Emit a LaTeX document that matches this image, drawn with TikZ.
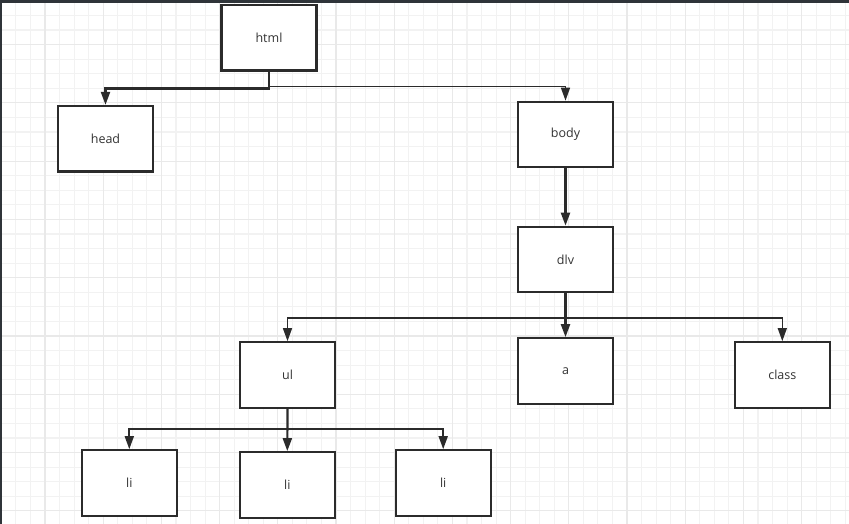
\documentclass[tikz,border=0pt]{standalone}
\usepackage{fontspec}
\setmainfont{Open Sans}
\usetikzlibrary{arrows.meta}
\definecolor{ink}{HTML}{2B2B2B}
\definecolor{txt}{HTML}{333333}
\definecolor{gminor}{HTML}{F2F2F2}
\definecolor{gmajor}{HTML}{E9E9E9}
\definecolor{framec}{HTML}{2F3439}
\tikzset{
  box/.style={draw=ink, line width=2.2pt, fill=white, minimum width=95pt, minimum height=65.5pt, inner sep=0pt, text=txt, font=\fontsize{12.5}{14}\selectfont},
  conn/.style={draw=ink, line width=2.2pt, -{Triangle[length=13pt,width=9pt]}},
  connthin/.style={draw=ink, line width=1.5pt, -{Triangle[length=13pt,width=9pt]}},
  connmid/.style={draw=ink, line width=1.8pt, -{Triangle[length=13pt,width=9pt]}},
}
\begin{document}
\begin{tikzpicture}[x=1pt,y=-1pt]
\useasboundingbox (0,0) rectangle (849,524);
\fill[white] (0,0) rectangle (849,524);
% grid
\foreach \i in {0,...,58} {
  \pgfmathsetmacro\gx{1.35+14.55*\i}
  \draw[gminor, line width=1.1pt] (\gx,0) -- (\gx,524);
}
\foreach \i in {0,...,36} {
  \pgfmathsetmacro\gy{0.85+14.57*\i}
  \draw[gminor, line width=1.1pt] (0,\gy) -- (849,\gy);
}
\foreach \i in {0,...,14} {
  \pgfmathsetmacro\gx{45+58.2*\i}
  \draw[gmajor, line width=1.1pt] (\gx,0) -- (\gx,524);
}
\foreach \i in {0,...,9} {
  \pgfmathsetmacro\gy{44.5+58.3*\i}
  \draw[gmajor, line width=1.1pt] (0,\gy) -- (849,\gy);
}
\fill[framec] (0,0) rectangle (849,3);
\fill[framec] (0,0) rectangle (2,524);
% nodes
\node[box] (html) at (269,37.7) {html};
\node[box] (head) at (105.5,138.7) {head};
\node[box] (body) at (565.5,134.5) {body};
\node[box] (dlv) at (565.5,259.5) {dlv};
\node[box] (a) at (565.5,371) {a};
\node[box] (class) at (782.3,375) {class};
\node[box] (ul) at (287.5,375) {ul};
\node[box] (li1) at (129.3,483) {li};
\node[box] (li2) at (287.3,485) {li};
\node[box] (li3) at (443.2,483) {li};
% connectors
\draw[connthin] ([yshift=-15pt]html.south) -| (body.north);
\draw[conn] (html.south) -- ++(0,17) -| (head.north);
\draw[conn] (body.south) -- (dlv.north);
\draw[conn] (dlv.south) -- (a.north);
\draw[connthin] ([yshift=-24.5pt]dlv.south) -| (ul.north);
\draw[connthin] ([yshift=-24.5pt]dlv.south) -| (class.north);
\draw[conn] (ul.south) -- (li2.north);
\draw[connmid] ([yshift=-20.5pt]ul.south) -| (li1.north);
\draw[connmid] ([yshift=-20.5pt]ul.south) -| (li3.north);
\end{tikzpicture}
\end{document}
